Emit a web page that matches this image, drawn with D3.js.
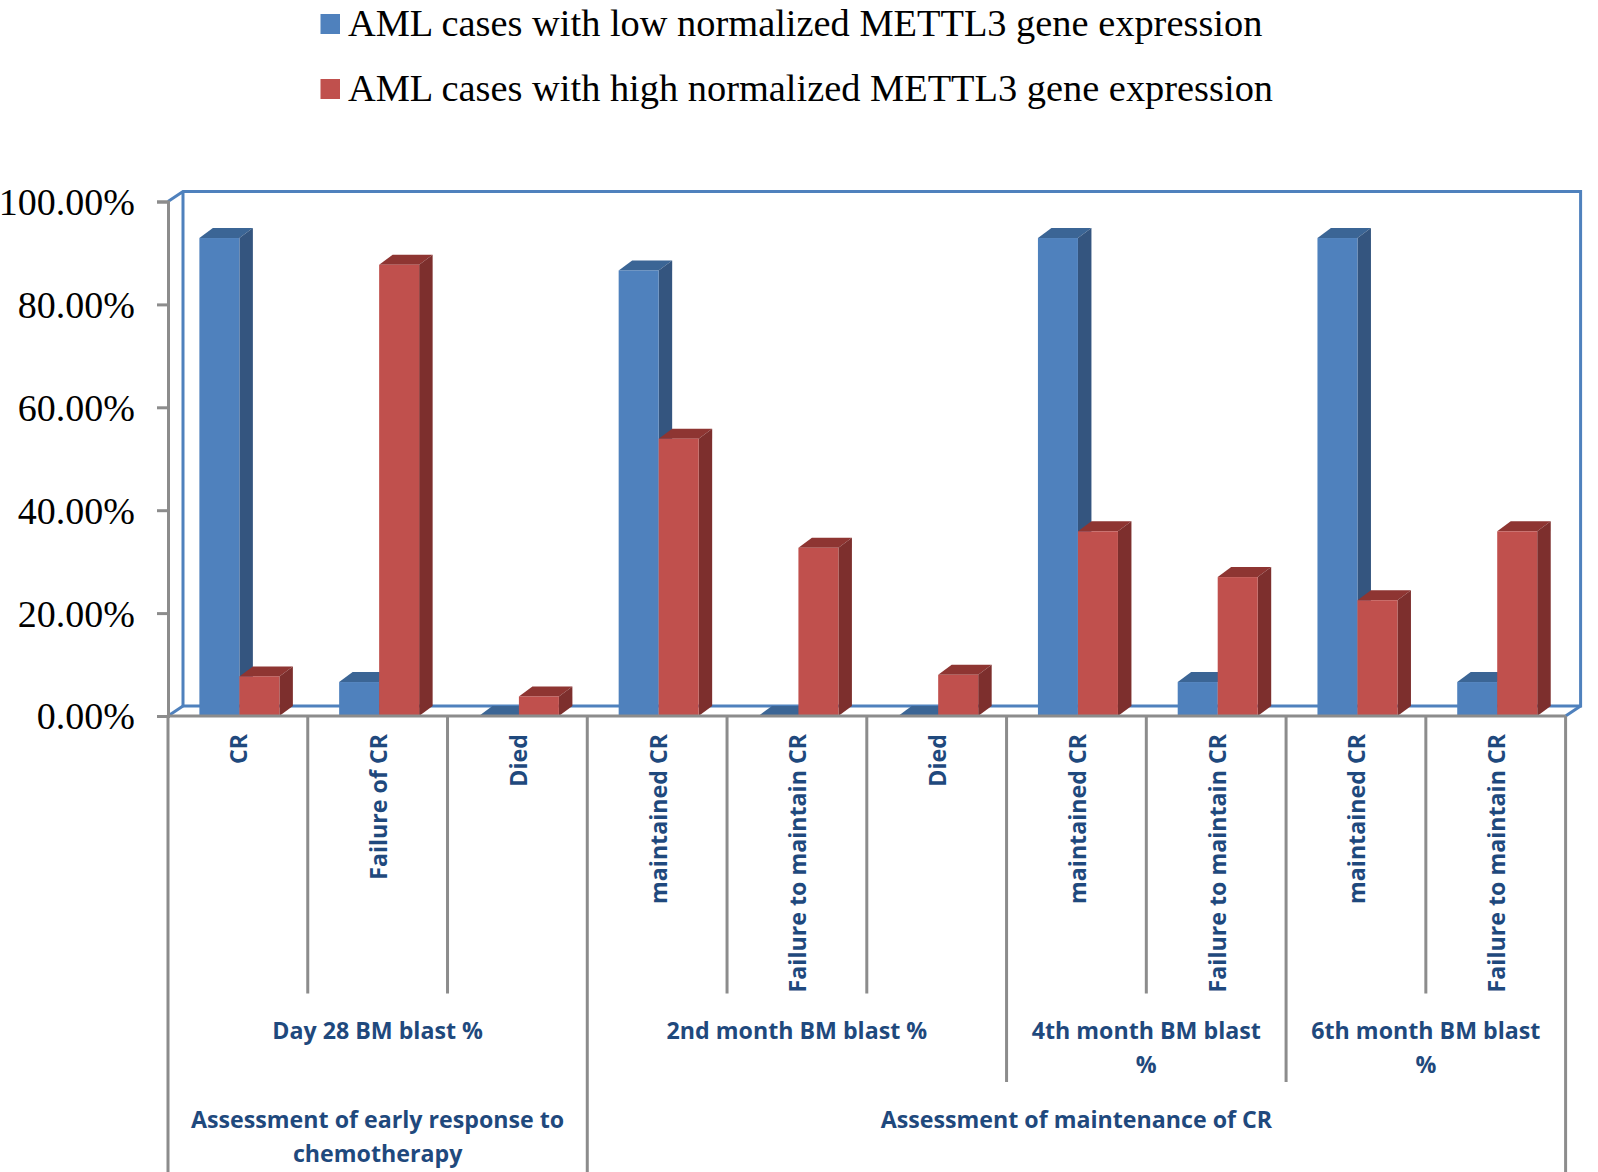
<!DOCTYPE html>
<html>
<head>
<meta charset="utf-8">
<script src="https://cdn.jsdelivr.net/npm/d3@7"></script>
<style>
  html, body { margin: 0; padding: 0; background: #fff; }
  svg { display: block; }
</style>
</head>
<body>
<svg id="chart"></svg>
<script>
const categories = ['CR', 'Failure of CR', 'Died', 'maintained CR', 'Failure to maintain CR', 'Died ', 'maintained CR ', 'Failure to maintain CR ', 'maintained CR  ', 'Failure to maintain CR  '];
const lowValues = [92.9, 6.6, 0, 86.6, 0, 0, 92.9, 6.6, 92.9, 6.6];
const highValues = [7.7, 87.7, 3.8, 53.9, 32.7, 8.0, 35.9, 27.0, 22.5, 35.9];
const seriesNames = ['AML cases with low normalized METTL3 gene expression', 'AML cases with high normalized METTL3 gene expression'];
const yTicks = [0, 20, 40, 60, 80, 100];
const monthGroups = [['Day 28 BM blast %'], ['2nd month BM blast %'], ['4th month BM blast', '%'], ['6th month BM blast', '%']];
const monthSpans = [3, 3, 2, 2];
const phaseGroups = [['Assessment of early response to', 'chemotherapy'], ['Assessment of maintenance of CR']];
const phaseSpans = [3, 7];

const width = 1598, height = 1172;
const plotLeft = 168, plotRight = 1565.6, plotTop = 201.5, plotBottom = 716;
const depthX = 13.5, depthY = 10;
const wallDepthX = 15;
const barWidth = 40, barShift = 1.5;
const frontColor = ['#4f81bd', '#c0504d'];
const sideColor = ['#34557f', '#7d2f2d'];
const topColor = ['#3b6595', '#8e3532'];
const axisGray = '#8c8c8c';
const labelBlue = '#1f497d';
const labelFont = '"Open Sans", sans-serif';

const svg = d3.select('#chart').attr('width', width).attr('height', height);

const x0 = d3.scaleBand().domain(categories).range([plotLeft, plotRight]);
const x1 = d3.scaleBand().domain([0, 1])
  .range([x0.bandwidth() / 2 - barWidth + barShift, x0.bandwidth() / 2 + barWidth + barShift]);
const y = d3.scaleLinear().domain([0, 100]).range([plotBottom, plotTop]);

// Legend
const legend = svg.append('g').selectAll('g')
  .data(seriesNames)
  .enter().append('g')
  .attr('transform', (d, i) => `translate(0,${i * 65})`);
legend.append('rect')
  .attr('x', 320.5).attr('y', 14).attr('width', 19.5).attr('height', 20)
  .attr('fill', (d, i) => frontColor[i]);
legend.append('text')
  .attr('x', 348).attr('y', 36)
  .attr('font-family', '"Liberation Serif", serif')
  .attr('font-size', 38.4)
  .attr('fill', '#000')
  .text(d => d);

// Back wall and floor
const wall = svg.append('g').attr('fill', 'none').attr('stroke', frontColor[0]).attr('stroke-width', 3);
wall.append('path').attr('d', d3.line()([
  [plotLeft, plotTop],
  [plotLeft + wallDepthX, plotTop - depthY],
  [plotRight + wallDepthX, plotTop - depthY],
  [plotRight + wallDepthX, plotBottom - depthY],
  [plotLeft + wallDepthX, plotBottom - depthY],
  [plotLeft + wallDepthX, plotTop - depthY]
]));
wall.append('path').attr('d', d3.line()([[plotLeft, plotBottom], [plotLeft + wallDepthX, plotBottom - depthY]]));
wall.append('path').attr('d', d3.line()([[plotRight, plotBottom], [plotRight + wallDepthX, plotBottom - depthY]]));

// Bars
const rows = categories.map((c, i) => ({ category: c, values: [lowValues[i], highValues[i]] }));
const barGroups = svg.append('g').selectAll('g')
  .data(rows)
  .enter().append('g')
  .attr('transform', d => `translate(${x0(d.category)},0)`);

const bars = barGroups.selectAll('g')
  .data(d => d.values.map((value, series) => ({ value, series })))
  .enter().append('g');

bars.append('path')
  .attr('fill', d => topColor[d.series])
  .attr('d', d => {
    const a = x1(d.series), b = a + x1.bandwidth(), t = y(d.value);
    return d3.line()([[a, t], [a + depthX, t - depthY], [b + depthX, t - depthY], [b, t]]) + 'Z';
  });
bars.filter(d => d.value > 0).append('path')
  .attr('fill', d => sideColor[d.series])
  .attr('d', d => {
    const b = x1(d.series) + x1.bandwidth(), t = y(d.value);
    return d3.line()([[b, t], [b + depthX, t - depthY], [b + depthX, plotBottom - depthY], [b, plotBottom]]) + 'Z';
  });
bars.filter(d => d.value > 0).append('rect')
  .attr('x', d => x1(d.series))
  .attr('y', d => y(d.value))
  .attr('width', x1.bandwidth())
  .attr('height', d => plotBottom - y(d.value))
  .attr('fill', d => frontColor[d.series]);

// Value axis
const yAxis = svg.append('g')
  .attr('transform', `translate(${plotLeft},0)`)
  .call(d3.axisLeft(y).tickValues(yTicks).tickFormat(d => d.toFixed(2) + '%').tickSize(11).tickPadding(22));
yAxis.selectAll('path, line').attr('stroke', axisGray).attr('stroke-width', 3);
yAxis.selectAll('text')
  .attr('font-family', '"Liberation Serif", serif')
  .attr('font-size', 38)
  .attr('fill', '#000')
  .attr('dy', '0.34em');

// Category axis: multi level separators
const bandW = x0.bandwidth();
const catAxis = svg.append('g').attr('stroke', axisGray).attr('stroke-width', 3);
catAxis.append('line').attr('x1', plotLeft).attr('x2', plotRight).attr('y1', plotBottom).attr('y2', plotBottom);

const monthEdges = d3.cumsum(monthSpans);
const phaseEdges = d3.cumsum(phaseSpans);
d3.range(0, categories.length + 1).forEach(i => {
  let end = 993.5;
  if (monthEdges.includes(i)) end = 1082;
  if (i === 0 || phaseEdges.includes(i)) end = 1172;
  catAxis.append('line')
    .attr('x1', plotLeft + i * bandW).attr('x2', plotLeft + i * bandW)
    .attr('y1', plotBottom).attr('y2', end);
});

// Category labels
const labelStyle = sel => sel
  .attr('font-family', labelFont)
  .attr('font-weight', 700)
  .attr('fill', labelBlue);

svg.append('g').selectAll('text')
  .data(categories)
  .enter().append('text')
  .attr('transform', d => `translate(${x0(d) + bandW / 2 + 9.5},734) rotate(-90)`)
  .attr('text-anchor', 'end')
  .attr('font-size', 23.2)
  .call(labelStyle)
  .text(d => d.trim());

const drawGroups = (names, spans, firstY) => {
  let start = 0;
  names.forEach((lines, i) => {
    const cx = plotLeft + (start + spans[i] / 2) * bandW;
    lines.forEach((line, j) => {
      svg.append('text')
        .attr('x', cx).attr('y', firstY + j * 34)
        .attr('text-anchor', 'middle')
        .attr('font-size', 23.2)
        .call(labelStyle)
        .text(line);
    });
    start += spans[i];
  });
};
drawGroups(monthGroups, monthSpans, 1039);
drawGroups(phaseGroups, phaseSpans, 1128);
</script>
</body>
</html>
